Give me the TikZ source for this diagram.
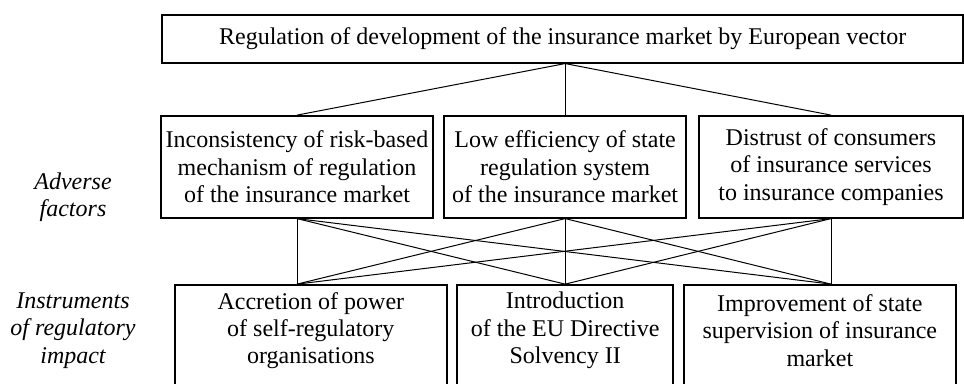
\documentclass[tikz,border=0pt]{standalone}
\usepackage{fontspec}
\setmainfont{Liberation Serif}
\begin{document}
\begin{tikzpicture}[x=0.75pt,y=-0.75pt,
  txt/.style={font=\fontsize{18}{20.5}\selectfont, align=center},
  box/.style={txt, draw, line width=1.3pt, inner sep=0pt},
  side/.style={txt, font=\fontsize{18}{20.5}\selectfont\itshape},
  link/.style={line width=0.75pt}]
\useasboundingbox (0,0) rectangle (964,383);

% goal
\node[box, minimum width=600.5pt, minimum height=35.55pt] (top) at (562.65,39)
  {Regulation of development of the insurance market by European vector};

% adverse factors
\node[box, minimum width=204.45pt, minimum height=76.3pt] (a1) at (297,166.85)
  {Inconsistency of risk-based\\mechanism of regulation\\of the insurance market};
\node[box, minimum width=181.3pt, minimum height=76.3pt] (a2) at (565.15,166.85)
  {Low efficiency of state\\regulation system\\of the insurance market};
\node[box, minimum width=198pt, minimum height=76.3pt] (a3) at (831,166.85)
  {Distrust of consumers\\of insurance services\\to insurance companies};

% instruments: frames run past the lower edge, texts sit near their tops
\node[box, minimum width=203.8pt, minimum height=77.25pt] (b1) at (310.85,336.5) {};
\node[box, minimum width=161.8pt, minimum height=77.25pt] (b2) at (565.15,336.5) {};
\node[box, minimum width=203.8pt, minimum height=77.25pt] (b3) at (819.85,336.5) {};
\node[txt] (b1t) at (310.85,330.5) {Accretion of power\\of self-regulatory\\organisations};
\node[txt] (b2t) at (565.15,330.5) {Introduction\\of the EU Directive\\Solvency II};
\node[txt] (b3t) at (819.85,330.5) {Improvement of state\\supervision of insurance\\market};

% row captions
\node[side] (cap1) at (73,197) {Adverse\\factors};
\node[side] (cap2) at (73,330.5) {Instruments\\of regulatory\\impact};

% connectors
\coordinate (apex) at (a2.north |- top.south);
\foreach \a in {a1,a2,a3} \draw[link] (apex) -- (\a.north);

\coordinate (p1) at (a1.south |- b1.north);
\coordinate (p2) at (a2.south |- b2.north);
\coordinate (p3) at (a3.south |- b3.north);
\foreach \a in {a1,a2,a3}
  \foreach \p in {p1,p2,p3}
    \draw[link] (\a.south) -- (\p);
\end{tikzpicture}
\end{document}
